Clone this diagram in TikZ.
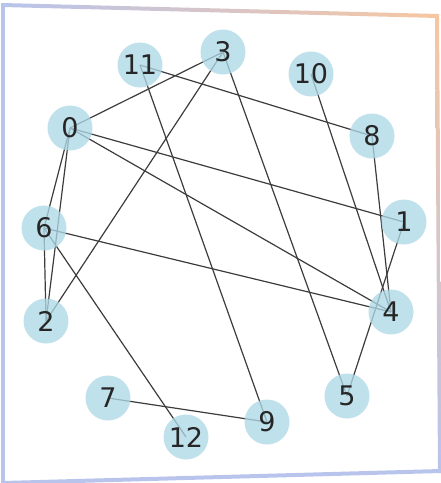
\documentclass[tikz,border=0pt]{standalone}
\usepackage{fontspec}
\setmainfont{DejaVu Sans}
\usetikzlibrary{backgrounds}
\definecolor{vertexblue}{RGB}{173,216,230}
\definecolor{edgegray}{RGB}{60,60,60}
\definecolor{framelav}{RGB}{184,196,236}
\definecolor{framepeach}{RGB}{247,198,162}

\begin{document}
\begin{tikzpicture}[
    x=1pt, y=-1pt,
    vertex/.style={circle, minimum size=45pt, inner sep=0pt, fill=vertexblue, fill opacity=0.78, text opacity=1, text=black!85, font=\fontsize{27}{27}\selectfont},
    link/.style={draw=edgegray, line width=1.2pt}
  ]
    \useasboundingbox (0,0) rectangle (441,483);

    % frame
    \shade[left color=framelav, right color=framepeach] (2,3) -- (438,14) -- (438,18) -- (2,7) -- cycle;
    \shade[top color=framepeach, bottom color=framelav] (435,14) -- (439,14) -- (442,473) -- (438,473) -- cycle;
    \fill[framelav] (1,3) rectangle (5,484);
    \fill[framelav] (3,481) -- (441,469) -- (441,473) -- (3,485) -- cycle;

    \node[vertex] (n0) at (70,128) {0};
    \node[vertex] (n1) at (404,222) {1};
    \node[vertex] (n2) at (46,321) {2};
    \node[vertex] (n3) at (223,52) {3};
    \node[vertex] (n4) at (391,312) {4};
    \node[vertex] (n5) at (347,396) {5};
    \node[vertex] (n6) at (44,228) {6};
    \node[vertex] (n7) at (108,398) {7};
    \node[vertex] (n8) at (372,136) {8};
    \node[vertex] (n9) at (267,422) {9};
    \node[vertex] (n10) at (311,74) {10};
    \node[vertex] (n11) at (140,65) {11};
    \node[vertex] (n12) at (186,437) {12};

    \begin{scope}[on background layer]
      \draw[link] (n0.center) -- (n3.center);
      \draw[link] (n0.center) -- (n1.center);
      \draw[link] (n0.center) -- (n4.center);
      \draw[link] (n0.center) -- (n6.center);
      \draw[link] (n0.center) -- (n2.center);
      \draw[link] (n3.center) -- (n2.center);
      \draw[link] (n3.center) -- (n5.center);
      \draw[link] (n11.center) -- (n8.center);
      \draw[link] (n11.center) -- (n9.center);
      \draw[link] (n10.center) -- (n4.center);
      \draw[link] (n8.center) -- (n4.center);
      \draw[link] (n1.center) -- (n5.center);
      \draw[link] (n6.center) -- (n4.center);
      \draw[link] (n6.center) -- (n2.center);
      \draw[link] (n6.center) -- (n12.center);
      \draw[link] (n7.center) -- (n9.center);
    \end{scope}
  \end{tikzpicture}
\end{document}
